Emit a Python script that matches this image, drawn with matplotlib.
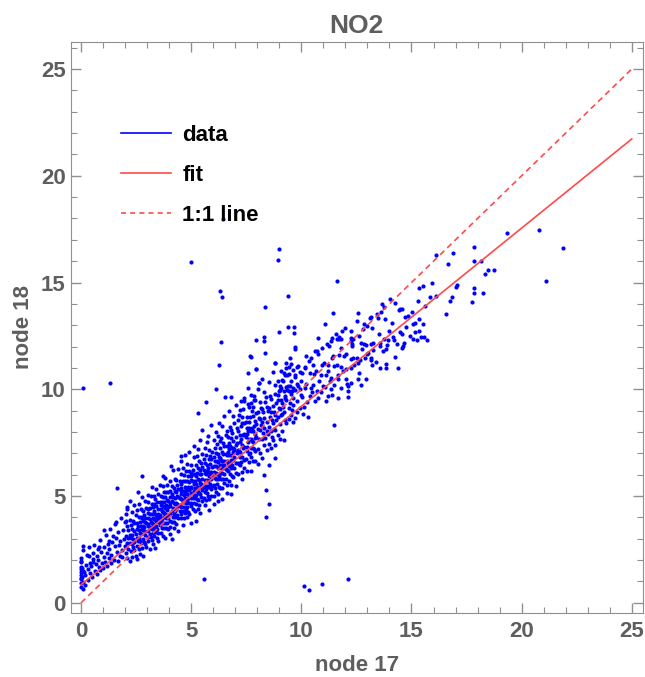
import numpy as np
import matplotlib.pyplot as plt
from matplotlib.lines import Line2D
from matplotlib.ticker import MultipleLocator

plt.rcParams["font.family"] = ["Liberation Sans", "DejaVu Sans"]
plt.rcParams["font.weight"] = "bold"


# ==============================
# DATA
# ==============================

title = "NO2"
x_label = "node 17"
y_label = "node 18"
tick_values = [0, 5, 10, 15, 20, 25]
legend_labels = ["data", "fit", "1:1 line"]

# fitted line
fit_intercept = 0.85
fit_slope = 0.835
line_end = 25

# points near the origin (x, y)
near_zero = [
    (0.0, 0.72), (0.0, 0.93), (0.0, 1.14), (0.0, 1.31), (0.0, 1.56), (0.0, 1.68), (0.0, 1.94),
    (0.0, 2.12), (0.04, 1.23), (0.06, 1.61), (0.11, 0.98), (0.09, 2.47), (0.13, 1.42), (0.16, 0.84),
    (0.21, 1.77), (0.18, 1.28), (0.27, 2.24), (0.31, 1.57), (0.33, 1.06), (0.36, 2.63), (0.42, 1.86),
    (0.39, 1.41), (0.47, 1.73), (0.52, 2.31), (0.49, 1.19), (0.56, 2.04), (0.62, 1.48), (0.58, 2.72),
    (0.67, 1.82), (0.71, 2.18), (0.74, 1.36), (0.77, 2.53), (0.81, 1.67), (0.79, 2.02), (0.86, 1.52),
    (0.91, 2.38), (0.88, 2.93), (0.96, 1.87), (1.02, 2.14), (0.99, 1.63), (1.06, 2.59), (1.12, 3.17),
    (1.09, 1.92), (1.16, 2.31), (1.21, 2.76), (1.18, 1.73), (1.26, 2.08), (1.32, 3.46), (1.29, 2.52),
    (1.36, 1.84), (1.41, 2.87), (1.38, 2.23), (1.47, 3.12), (1.52, 2.64), (1.49, 2.01), (1.56, 3.68),
    (1.62, 2.37), (1.58, 3.03), (1.66, 1.94), (1.71, 2.71), (1.69, 3.32), (1.76, 2.18), (1.82, 3.97),
    (1.79, 2.91), (1.86, 2.46), (1.91, 3.42), (1.88, 2.13), (1.96, 3.01), (1.99, 2.68), (2.01, 3.78),
    (0.08, 2.67), (0.0, 1.89), (0.0, 1.42), (0.0, 1.1), (0.08, 0.63), (1.59, 3.77),
    (1.06, 3.43), (1.29, 2.91), (0.83, 2.59), (0.38, 2.2), (0.53, 1.89), (0.08, 1.5),
    (2.08, 4.48), (2.05, 4.17),
]

# dense band, one entry per node 17 value: (x, [node 18 values])
band_2_4 = [
    (2.03, [2.33, 3.13, 3.83]), (2.09, [2.08, 2.78, 3.58, 4.38]), (2.14, [3.02, 2.52, 3.42]),
    (2.21, [1.98, 2.78, 3.18, 3.88, 4.78]), (2.26, [3.02, 2.42, 3.62]),
    (2.31, [2.76, 3.46, 2.16, 4.26, 3.16]), (2.37, [3.81, 2.61, 3.01]),
    (2.42, [2.46, 3.36, 4.56, 2.86, 3.76]), (2.48, [3.21, 2.21, 4.11]),
    (2.53, [3.05, 3.75, 2.65, 4.35, 2.05, 3.45]), (2.57, [2.88, 3.58, 5.18]),
    (2.62, [3.43, 2.53, 4.03, 3.03, 4.63]), (2.68, [2.88, 3.78, 3.28, 2.28]),
    (2.71, [3.60, 2.80, 4.40, 3.20, 4.00]), (2.77, [2.55, 3.45, 3.95, 4.95]),
    (2.83, [3.41, 3.01, 3.81, 2.21, 4.31, 3.61]), (2.86, [2.83, 4.13, 3.53]),
    (2.91, [3.37, 3.97, 2.77, 4.77, 3.17, 3.77]), (2.97, [3.72, 2.62, 4.42]),
    (3.02, [3.37, 3.97, 3.07, 5.07, 3.67, 4.37]), (3.06, [4.20, 2.90, 3.60, 4.70]),
    (3.11, [3.24, 3.94, 2.54, 4.44, 3.54, 4.14]), (3.17, [3.79, 3.09, 4.99, 3.49]),
    (3.22, [2.94, 4.14, 3.74, 4.64, 3.44, 5.44]), (3.26, [3.97, 3.27, 4.47, 2.77, 3.67]),
    (3.31, [3.61, 4.31, 3.11, 5.01, 3.91, 4.61]), (3.37, [4.16, 3.46, 4.86, 2.56]),
    (3.42, [3.81, 4.51, 3.31, 4.11, 3.61, 5.31]), (3.46, [3.44, 4.04, 4.74, 3.04]),
    (3.51, [3.98, 3.28, 4.38, 3.78, 5.08, 4.18, 2.88]), (3.57, [3.63, 4.73, 4.13, 5.53]),
    (3.62, [3.98, 3.28, 4.38, 3.78, 4.98, 4.58]), (3.66, [3.51, 4.31, 3.91, 4.71]),
    (3.71, [4.25, 3.75, 4.95, 3.15, 4.55, 5.45]), (3.77, [4.00, 4.70, 3.50, 4.20, 5.20]),
    (3.82, [4.45, 3.75, 4.15, 4.95, 3.05, 5.85]), (3.86, [3.98, 4.58, 3.48, 5.18]),
    (3.92, [4.33, 3.73, 4.83, 4.13, 5.53, 4.53]), (3.96, [3.97, 4.47, 5.17, 3.47, 4.77]),
]

band_4_6 = [
    (4.02, [3.82, 5.22, 3.22, 4.52, 5.72]), (4.06, [4.65, 4.15, 3.55, 4.95]),
    (4.11, [4.29, 5.49, 3.79, 4.79, 2.99, 5.09]), (4.17, [4.44, 4.04, 4.94, 6.24]),
    (4.21, [3.78, 4.68, 5.38, 4.18, 3.48]), (4.26, [4.92, 4.02, 5.82, 4.62, 4.32, 5.22]),
    (4.32, [4.37, 5.17, 3.67, 5.77, 4.67]), (4.36, [5.01, 4.11, 4.61, 5.51]),
    (4.41, [4.55, 5.35, 3.95, 4.95, 6.25, 3.35]), (4.47, [4.90, 4.30, 5.70, 4.60]),
    (4.52, [4.14, 5.24, 4.84, 6.04, 4.54, 5.54, 6.64]), (4.56, [5.08, 3.98, 5.38, 4.48]),
    (4.61, [4.82, 5.72, 4.32, 5.22, 3.62, 6.32, 4.72]), (4.67, [4.47, 5.07, 5.97, 3.97]),
    (4.71, [5.40, 4.70, 4.90, 5.70, 4.20, 6.90, 5.20]), (4.76, [4.65, 5.35, 6.15, 4.35]),
    (4.82, [5.10, 4.50, 5.70, 4.00, 5.30, 6.50, 4.80]), (4.86, [4.93, 5.93, 5.43, 4.23]),
    (4.91, [5.27, 4.67, 5.67, 6.17, 4.97, 7.07, 4.17]), (4.97, [4.52, 5.42, 5.92, 4.92]),
    (5.01, [5.16, 5.76, 4.66, 6.46, 3.76, 5.36, 6.06]), (5.06, [4.90, 5.70, 4.40, 6.20]),
    (5.12, [5.55, 5.05, 6.05, 4.65, 6.85, 7.35, 5.25]), (5.16, [4.89, 5.69, 5.39, 4.29]),
    (5.22, [5.94, 5.04, 6.44, 4.64, 5.54, 3.84]), (5.27, [5.28, 6.08, 4.88, 6.88]),
    (5.31, [5.81, 4.81, 5.41, 6.31, 5.21, 7.21, 4.41]), (5.37, [5.16, 5.76, 6.66, 4.56]),
    (5.42, [5.61, 5.11, 6.21, 5.41, 7.61, 4.21, 6.01]), (5.46, [4.94, 6.04, 5.54, 6.54]),
    (5.51, [5.78, 5.28, 6.38, 4.78, 6.98, 8.08, 5.48]), (5.56, [5.43, 6.23, 4.93, 6.73]),
    (5.61, [6.07, 5.17, 5.77, 6.57, 4.57, 7.27, 5.47]), (5.66, [5.31, 6.01, 6.91, 4.81]),
    (5.71, [5.75, 6.45, 5.15, 6.15, 7.55, 5.45]), (5.77, [5.70, 6.30, 5.00, 7.80]),
    (5.81, [6.14, 5.44, 6.74, 4.84, 5.94, 7.14, 4.34]), (5.86, [5.58, 6.48, 6.08, 6.88]),
    (5.91, [6.12, 5.32, 6.72, 5.82, 8.32, 5.02]), (5.96, [5.47, 6.37, 5.97, 7.07]),
]

band_6_8 = [
    (6.02, [6.12, 5.52, 6.82, 5.02, 6.42, 7.62, 4.62]), (6.07, [5.86, 6.66, 5.36, 7.26]),
    (6.12, [6.40, 5.80, 7.00, 5.20, 6.10, 8.00]), (6.16, [6.04, 6.64, 5.54, 7.44]),
    (6.22, [6.59, 5.79, 6.99, 5.09, 6.29, 7.79, 4.79]), (6.27, [5.93, 6.83, 5.43, 8.43]),
    (6.31, [6.46, 6.06, 7.26, 5.36, 6.76, 7.56]), (6.36, [5.81, 6.71, 6.31, 7.71]),
    (6.42, [6.66, 6.06, 7.06, 5.36, 6.46, 8.26, 4.86]), (6.46, [6.29, 6.99, 5.79, 7.49]),
    (6.51, [6.63, 6.03, 7.33, 5.63, 6.43, 8.73]), (6.57, [6.28, 6.98, 5.78, 7.88]),
    (6.62, [6.93, 6.23, 7.33, 5.53, 6.63, 8.03, 5.13]), (6.66, [6.16, 7.06, 6.56, 7.76]),
    (6.71, [6.90, 6.40, 7.50, 5.70, 7.20, 9.00]), (6.77, [6.55, 7.35, 6.05, 8.25]),
    (6.82, [6.90, 6.30, 7.70, 5.50, 6.70, 8.10, 5.10]), (6.86, [6.43, 7.23, 5.93, 7.93]),
    (6.91, [7.07, 6.67, 7.57, 5.87, 7.27, 8.77]), (6.96, [6.32, 7.22, 6.82, 8.42]),
    (7.02, [7.07, 6.57, 7.77, 6.07, 7.37, 9.27, 5.47]), (7.06, [7.00, 7.50, 8.20]),
    (7.11, [7.14, 6.54, 8.04, 6.04, 8.54]), (7.16, [7.09, 6.49, 8.79]),
    (7.22, [7.54, 7.04, 7.84, 6.44, 6.84, 9.04]), (7.27, [7.68, 6.58, 8.28]),
    (7.31, [6.81, 7.41, 8.41, 6.11, 8.71, 5.81]), (7.36, [7.26, 7.86, 9.06]),
    (7.42, [7.31, 6.71, 7.91, 8.41, 6.31, 9.61]), (7.47, [7.75, 6.75, 8.45]),
    (7.52, [7.89, 7.09, 7.29, 6.19, 8.69, 8.19]), (7.56, [7.53, 8.03, 9.33]),
    (7.62, [6.98, 7.68, 8.48, 6.58, 8.18, 9.18]), (7.67, [8.12, 7.02, 8.72]),
    (7.71, [7.65, 6.85, 8.05, 7.25, 9.75, 6.15]), (7.76, [7.60, 8.20, 9.00]),
    (7.82, [7.25, 8.05, 8.75, 6.65, 7.55, 9.15]), (7.87, [8.29, 7.19, 9.49]),
    (7.91, [7.92, 7.12, 8.52, 6.62, 9.52, 7.72]), (7.96, [7.77, 8.37, 8.87]),
]

band_8_10 = [
    (8.02, [8.12, 7.22, 8.92, 6.52, 10.02]), (8.07, [7.66, 8.66]),
    (8.12, [8.10, 9.40, 7.00, 8.60]), (8.17, [8.34, 9.14]),
    (8.22, [7.69, 8.49, 10.49, 6.79, 9.09]), (8.27, [7.93, 8.93]),
    (8.32, [8.67, 7.37, 9.87, 5.97, 8.17]), (8.37, [7.71, 9.41]),
    (8.42, [8.46, 7.16, 9.16, 8.06]), (8.47, [9.00, 7.90]),
    (8.52, [8.24, 9.14, 7.44, 10.34, 6.44]), (8.57, [8.68, 9.68]),
    (8.62, [8.03, 8.93, 9.53, 7.23]), (8.67, [8.57, 7.77]),
    (8.72, [8.41, 9.21, 7.61, 10.81]), (8.77, [8.95, 8.15]),
    (8.82, [8.10, 8.80, 9.80, 7.40, 6.80]), (8.87, [9.34, 8.54]),
    (8.92, [8.68, 9.48, 7.88, 10.38]), (8.97, [9.12, 9.92]),
    (9.02, [9.07, 8.37, 9.97, 7.67]), (9.07, [9.51, 8.81]),
    (9.12, [9.35, 8.85, 10.45, 8.05]), (9.17, [9.19, 10.39]),
    (9.22, [8.94, 9.94, 7.64, 10.74]), (9.27, [9.58, 8.58]),
    (9.32, [9.52, 8.42, 10.12, 11.02]), (9.37, [9.96, 10.66]),
    (9.42, [9.11, 10.71, 8.61, 9.91]), (9.47, [9.35, 10.15]),
    (9.52, [9.79, 8.79, 10.39, 11.19]), (9.57, [9.93, 9.03]),
    (9.62, [9.28, 10.08, 8.48, 10.88]), (9.72, [9.96, 8.66, 10.56]),
    (9.82, [9.45, 10.25, 8.95, 11.05]), (9.92, [10.03, 9.13, 10.83]),
]

# sparser upper part of the band (x, y)
band_upper = [
    (10.03, 9.62), (10.08, 8.84), (9.97, 10.41), (10.12, 9.18), (10.22, 10.27), (10.27, 9.41),
    (10.18, 11.03), (10.31, 8.72), (10.42, 10.06), (10.47, 9.88), (10.36, 11.32), (10.58, 10.71),
    (10.63, 9.47), (10.54, 11.12), (10.69, 9.93), (10.81, 10.39), (10.88, 9.86), (10.77, 11.64),
    (11.02, 11.21), (11.07, 10.12), (10.93, 11.93), (11.11, 9.45), (11.23, 10.84), (11.28, 10.38),
    (11.17, 12.14), (11.43, 11.57), (11.47, 10.21), (11.33, 12.24), (11.38, 9.72), (11.61, 11.14),
    (11.66, 10.67), (11.57, 12.61), (11.5, 8.35), (11.82, 11.92), (11.88, 10.84), (11.73, 12.43),
    (12.03, 11.63), (12.08, 10.27), (11.97, 12.88), (12.14, 9.94), (12.32, 12.02), (12.38, 11.12),
    (12.24, 12.71), (12.61, 12.48), (12.67, 11.36), (12.53, 13.22), (12.64, 10.78), (12.92, 12.09),
    (12.97, 11.67), (12.86, 13.04), (13.21, 12.86), (13.27, 11.83), (13.14, 13.38), (13.23, 11.12),
    (13.52, 12.61), (13.58, 12.18), (13.43, 13.52), (13.81, 13.27), (13.87, 12.06), (13.73, 13.86),
    (14.12, 13.09), (14.18, 12.44), (14.03, 14.22), (14.42, 13.71), (14.47, 12.68), (14.71, 13.38),
    (14.76, 12.92), (14.66, 12.17), (15.02, 13.62), (15.07, 13.04), (14.94, 12.51), (15.31, 14.13),
    (15.36, 12.71), (15.62, 13.92), (15.7, 12.3),
    (11.44, 13.55), (11.09, 13.05), (12.59, 13.55), (13.6, 13.6), (13.67, 14.0),
    (14.27, 14.03), (14.5, 13.76), (13.12, 13.33), (12.97, 12.96), (12.8, 12.8),
    (13.48, 13.33), (11.83, 12.72), (11.62, 12.37), (11.4, 12.42), (10.74, 12.42),
    (9.41, 12.92), (9.68, 12.92), (9.68, 12.64), (9.0, 12.69), (7.94, 12.31),
    (8.29, 12.45), (8.29, 12.25), (8.33, 11.71), (7.73, 11.51), (7.94, 10.94),
    (8.1, 10.28), (7.83, 9.67), (8.39, 9.62), (8.82, 11.24), (9.71, 11.98), (9.71, 11.87),
    (11.26, 12.03), (11.7, 12.37), (11.82, 12.37), (12.27, 12.42), (12.24, 12.26),
    (12.36, 12.34), (12.3, 12.11), (12.7, 12.16), (12.85, 12.12), (12.77, 11.9),
    (13.26, 12.19), (13.18, 12.12), (13.76, 12.34), (13.97, 12.74), (13.94, 12.3),
    (14.2, 12.3), (14.36, 12.11), (14.62, 12.03), (14.55, 11.95), (13.83, 11.87),
    (13.71, 11.78), (13.55, 12.03), (13.01, 11.68), (13.14, 11.48), (13.18, 11.35),
    (13.39, 11.29), (13.56, 11.0), (13.86, 11.19), (14.27, 11.51), (14.39, 10.98),
    (13.86, 10.98), (12.88, 11.45), (12.53, 11.45), (12.35, 11.45), (10.61, 11.79),
    (10.73, 11.79), (11.39, 11.48), (11.7, 11.6), (11.94, 11.56), (12.27, 11.4),
    (12.58, 11.24), (10.95, 11.16), (11.21, 11.12), (11.48, 11.08), (11.79, 11.04),
    (12.05, 10.93), (12.27, 10.98), (10.23, 11.56), (10.45, 11.45), (9.5, 11.45),
    (9.32, 11.24), (9.42, 11.04), (9.85, 11.08), (10.15, 11.0), (9.09, 10.85),
    (9.24, 10.69), (9.7, 10.69), (10.03, 10.77), (10.38, 10.74), (10.68, 10.85),
    (10.91, 10.66), (11.14, 10.69), (11.36, 10.53), (11.67, 10.46), (12.05, 10.46),
    (12.27, 10.3), (12.58, 10.46), (12.95, 10.46), (8.79, 10.22), (9.09, 10.06),
    (9.39, 10.14), (9.85, 10.14), (10.15, 10.06), (10.53, 10.22), (10.98, 10.14),
    (11.36, 9.99), (11.82, 10.06), (12.12, 10.14), (12.73, 10.19), (8.94, 9.75),
    (9.24, 9.67), (9.62, 9.59), (10.0, 9.75), (10.38, 9.67), (10.76, 9.59),
    (11.21, 9.67), (11.67, 9.59), (12.12, 9.62),
    (7.6, 10.75), (7.95, 10.93), (7.65, 11.54), (7.58, 10.06), (7.27, 9.43), (7.42, 9.43),
    (7.73, 9.35), (8.1, 10.3), (8.79, 11.24), (9.02, 10.14), (6.55, 9.66), (6.79, 9.66),
]

# upper right end of the cloud (x, y)
top_right = [
    (19.35, 17.33), (20.79, 17.45), (21.9, 16.6), (21.09, 15.09), (17.83, 16.67),
    (17.83, 16.0), (18.14, 16.0), (16.9, 16.37), (16.1, 16.3), (16.67, 15.88),
    (18.35, 15.41), (18.48, 15.58), (18.76, 15.58), (15.92, 14.98), (15.33, 14.73),
    (15.51, 14.86), (17.0, 14.81), (17.06, 14.9), (17.83, 14.73), (17.83, 14.5),
    (18.24, 14.5), (17.77, 14.07), (16.83, 14.31), (16.74, 14.14), (15.86, 14.32),
    (16.1, 14.37), (16.55, 13.54), (14.55, 13.76), (14.86, 13.41), (15.33, 13.27),
    (15.15, 13.11), (15.51, 13.05), (15.15, 12.69), (14.59, 12.58), (15.05, 12.37),
    (15.27, 12.33), (15.45, 12.45), (15.55, 12.45),
]

# isolated points away from the band (x, y)
outliers = [
    (0.09, 10.05), (1.3, 10.3), (5.0, 15.94), (6.32, 14.58), (6.41, 14.3), (6.44, 17.97),
    (8.98, 16.56), (8.92, 16.07), (11.62, 15.05), (9.39, 14.39), (8.35, 13.84),
    (6.36, 12.2), (6.26, 11.12), (6.14, 10.02), (5.65, 9.39), (5.3, 8.88),
    (5.59, 1.12), (10.13, 0.78), (10.36, 0.6), (10.93, 0.89), (12.11, 1.12),
    (1.64, 5.39), (2.76, 5.94), (4.09, 6.42), (3.71, 5.94), (4.55, 6.89),
    (8.41, 5.27), (8.53, 4.64), (8.41, 4.01),
]


# ==============================
# ASSEMBLY
# ==============================

def column_points(columns):
    return [(x, y) for x, ys in columns for y in ys]


points = (
    near_zero
    + column_points(band_2_4)
    + column_points(band_4_6)
    + column_points(band_6_8)
    + column_points(band_8_10)
    + band_upper
    + top_right
    + outliers
)
node17 = np.array([p[0] for p in points])
node18 = np.array([p[1] for p in points])


# ==============================
# PLOT
# ==============================

gray = "#5e5e5e"
red = "#ff4a4a"

fig = plt.figure(figsize=(6.45, 6.77), dpi=100)
ax = fig.add_axes([0.1096, 0.0945, 0.8873, 0.8439])

ax.scatter(node17, node18, s=9, color="#0000ff", linewidths=0, zorder=2)

fit_x = np.array([0, line_end])
ax.plot(fit_x, fit_intercept + fit_slope * fit_x, color=red, lw=1.2, zorder=3)
ax.plot(fit_x, fit_x, color=red, lw=1.2, ls=(0, (3.5, 2.5)), zorder=3)

ax.set_xlim(-0.47, 25.51)
ax.set_ylim(-0.48, 26.28)
ax.set_xticks(tick_values)
ax.set_yticks(tick_values)
ax.xaxis.set_minor_locator(MultipleLocator(1))
ax.yaxis.set_minor_locator(MultipleLocator(1))
ax.tick_params(which="both", direction="in", top=True, right=True, color="#909090")
ax.tick_params(which="major", length=7, width=1, labelsize=16, labelcolor=gray)
ax.tick_params(which="minor", length=4, width=0.8)
ax.tick_params(axis="x", which="major", pad=6)
ax.tick_params(axis="y", which="major", pad=3.5)
for label in ax.get_xticklabels() + ax.get_yticklabels():
    label.set_fontweight("bold")
for spine in ax.spines.values():
    spine.set_color("#909090")

ax.set_title(title, fontsize=19, fontweight="bold", color=gray, pad=6)
ax.set_xlabel(x_label, fontsize=16, fontweight="bold", color=gray, labelpad=9)
ax.set_ylabel(y_label, fontsize=16, fontweight="bold", color=gray, labelpad=5)

handles = [
    Line2D([], [], color="#0000ff", lw=1.2),
    Line2D([], [], color=red, lw=1.2),
    Line2D([], [], color=red, lw=1.2, ls=(0, (3, 2.5))),
]
leg = ax.legend(
    handles, legend_labels, loc="upper left", bbox_to_anchor=(0.088, 0.855),
    frameon=False, borderaxespad=0, borderpad=0, handlelength=2.25,
    handletextpad=0.5, labelspacing=0.86,
    prop={"size": 16, "weight": "bold"},
)

fig.savefig("out.png", dpi=100)
